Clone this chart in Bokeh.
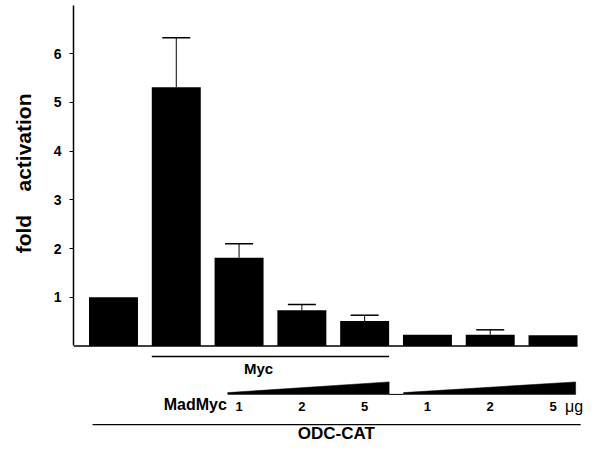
from bokeh.plotting import figure
from bokeh.models import ColumnDataSource, Range1d, FixedTicker, Whisker, TeeHead
from bokeh.core.properties import value
from bokeh.embed import file_html
from bokeh.resources import INLINE

# ---------------- data ----------------
positions = [1, 2, 3, 4, 5, 6, 7, 8]
fold = [1.0, 5.31, 1.81, 0.73, 0.51, 0.23, 0.23, 0.22]
err_pos = [2, 3, 4, 5, 7]
err_upper = [6.33, 2.10, 0.85, 0.63, 0.33]
y_ticks = [1, 2, 3, 4, 5, 6]
dose_pos = [3, 4, 5, 6, 7, 8]
dose_labels = ["1", "2", "5", "1", "2", "5"]

# ---------------- layout ----------------
W, H = 584, 445
LEFT = 73
PX_X = 62.79
PX_Y = 48.7
BASE = 345.4          # pixel row of y=0 inside the figure
x0 = (LEFT - 50.2) / PX_X
x1 = x0 + (W - LEFT) / PX_X
y_top = BASE / PX_Y
y_bot = y_top - H / PX_Y
FONT = "Liberation Sans"
BAR_W = 0.78
NB = "\u00a0"

def dy(px):
    return -px / PX_Y

p = figure(width=W, height=H, output_backend="svg", toolbar_location=None,
           x_range=Range1d(x0, x1), y_range=Range1d(y_bot, y_top),
           min_border_left=LEFT, min_border_right=0, min_border_top=0, min_border_bottom=0)
p.outline_line_color = None
p.grid.visible = False
p.xaxis.visible = False

ya = p.yaxis[0]
ya.ticker = FixedTicker(ticks=y_ticks)
ya.bounds = (0, 7)
ya.axis_line_width = 1.5
ya.axis_line_color = "black"
ya.major_tick_in = 0
ya.major_tick_out = 4
ya.major_tick_line_width = 1.2
ya.minor_tick_line_color = None
ya.major_label_standoff = 8
ya.major_label_text_font = FONT
ya.major_label_text_font_style = "bold"
ya.major_label_text_font_size = "14px"
ya.major_label_text_color = "black"
ya.axis_label = NB * 17 + "fold" + NB * 4 + "activation"
ya.axis_label_text_font = FONT
ya.axis_label_text_font_style = "bold"
ya.axis_label_text_font_size = "21px"
ya.axis_label_text_color = "black"
ya.axis_label_standoff = 16

# baseline
p.segment(x0=[x0], y0=[0], x1=[8 + BAR_W / 2], y1=[0], line_color="black", line_width=1.5)

# bars
src = ColumnDataSource(dict(x=positions, top=fold))
p.vbar(x="x", top="top", width=BAR_W, source=src, fill_color="black", line_color=None)

# error bars
lower = [fold[positions.index(k)] for k in err_pos]
esrc = ColumnDataSource(dict(x=err_pos, lower=lower, upper=err_upper))
p.add_layout(Whisker(base="x", lower="lower", upper="upper", source=esrc, dimension="height",
                     line_color="black", line_width=1,
                     upper_head=TeeHead(size=28, line_width=1.5, line_color="black"),
                     lower_head=None))

# Myc line and label
myc_y = dy(10.6)
p.segment(x0=[2 - BAR_W / 2], y0=[myc_y], x1=[5 + BAR_W / 2], y1=[myc_y], line_color="black", line_width=1.3)
p.text(x=[3.31], y=[dy(22.5)], text=["Myc"], text_font=value(FONT), text_font_style="bold",
       text_font_size="15px", text_align="center", text_baseline="middle", text_color="black")

# wedges
wt = dy(36.0)
wb = dy(48.5)
wl = dy(46.7)
p.patches(xs=[[2.82, 5 + BAR_W / 2, 5 + BAR_W / 2, 2.82], [5.62, 8.36, 8.36, 5.62]],
          ys=[[wb, wb, wt, wl], [wb, wb, wt, wl]], fill_color="black", line_color="black", line_width=0.5)
p.segment(x0=[5 + BAR_W / 2], y0=[wb], x1=[5.62], y1=[wb], line_color="black", line_width=1)

# dose labels
p.text(x=dose_pos, y=[dy(60.4)] * len(dose_pos), text=dose_labels, text_font=value(FONT),
       text_font_style="bold", text_font_size="13px", text_align="center", text_baseline="middle",
       text_color="black")
p.text(x=[1.80], y=[dy(58.2)], text=["MadMyc"], text_font=value(FONT), text_font_style="bold",
       text_font_size="16px", text_align="left", text_baseline="middle", text_color="black")
p.text(x=[8.19], y=[dy(60.4)], text=["\u03bcg"], text_font=value(FONT),
       text_font_size="16px", text_align="left", text_baseline="middle", text_color="black")

# ODC-CAT line and label
odc_y = dy(78.8)
p.segment(x0=[0.666], y0=[odc_y], x1=[8.44], y1=[odc_y], line_color="black", line_width=1.3)
p.text(x=[4.55], y=[dy(88.0)], text=["ODC-CAT"], text_font=value(FONT), text_font_style="bold",
       text_font_size="17px", text_align="center", text_baseline="middle", text_color="black")

open("out.html", "w").write(file_html(p, INLINE))
